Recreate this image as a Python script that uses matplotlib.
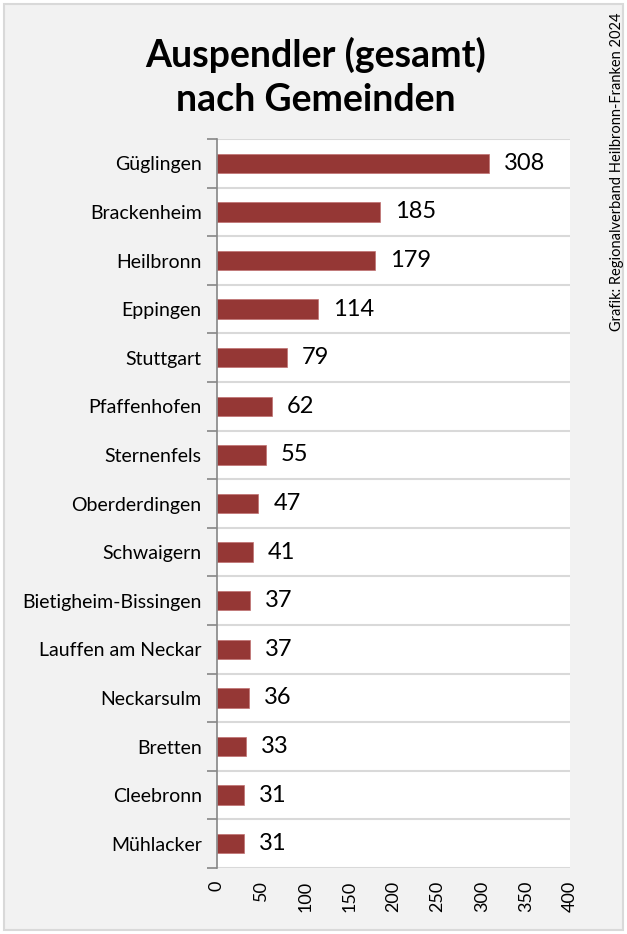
import matplotlib
matplotlib.use("Agg")
import matplotlib.pyplot as plt
from matplotlib.patches import Rectangle

categories = ["Güglingen", "Brackenheim", "Heilbronn", "Eppingen", "Stuttgart",
              "Pfaffenhofen", "Sternenfels", "Oberderdingen", "Schwaigern",
              "Bietigheim-Bissingen", "Lauffen am Neckar", "Neckarsulm",
              "Bretten", "Cleebronn", "Mühlacker"]
values = [308, 185, 179, 114, 79, 62, 55, 47, 41, 37, 37, 36, 33, 31, 31]
xticks = [0, 50, 100, 150, 200, 250, 300, 350, 400]

FONT = "Lato"
BAR = "#953735"

fig = plt.figure(figsize=(6.27, 9.34), dpi=100)
fig.patch.set_facecolor("white")
fig.patches.append(Rectangle((4/627, 4/934), 1-8/627, 1-8/934, transform=fig.transFigure,
                             facecolor="#f2f2f2", edgecolor="#d9d9d9", linewidth=1.5, zorder=-10))

ax = fig.add_axes([217/627, 1-868/934, (570-217)/627, (868-139)/934])
ax.set_facecolor("white")
y = list(range(len(categories)))
ax.barh(y, values, height=0.4, color=BAR, edgecolor="#c07070", linewidth=0.5, zorder=3)
for yi, v in zip(y, values):
    ax.text(v + 17, yi, str(v), va="center", ha="left", fontsize=17, family=FONT, color="black")

ax.set_ylim(len(categories) - 0.5, -0.5)
ax.set_xlim(0, 400)
ax.set_yticks(y)
ax.set_yticklabels(categories, fontsize=14, family=FONT)
ax.set_yticks([i - 0.5 for i in range(len(categories) + 1)], minor=True)
ax.tick_params(axis="y", which="major", length=0, pad=11)
ax.tick_params(axis="y", which="minor", length=7, color="#868686", width=1.2)
ax.grid(axis="y", which="minor", color="#d9d9d9", linewidth=1.5, zorder=1)
ax.set_xticks(xticks)
ax.set_xticklabels([str(t) for t in xticks], rotation=90, fontsize=13, family=FONT)
ax.tick_params(axis="x", length=0, pad=9)
for s in ["top", "right", "bottom"]:
    ax.spines[s].set_visible(False)
ax.spines["left"].set_color("#868686")
ax.spines["left"].set_linewidth(1.2)
ax.spines["left"].set_zorder(4)

fig.text(316/627, 1-77/934, "Auspendler (gesamt)\nnach Gemeinden", ha="center", va="center",
         fontsize=27, fontweight="bold", family=FONT, linespacing=1.35)
fig.text(617/627, 1-172/934, "Grafik: Regionalverband Heilbronn-Franken 2024", rotation=90,
         ha="center", va="center", fontsize=10.5, family=FONT)

fig.savefig("out.png", dpi=100, facecolor=fig.get_facecolor())
